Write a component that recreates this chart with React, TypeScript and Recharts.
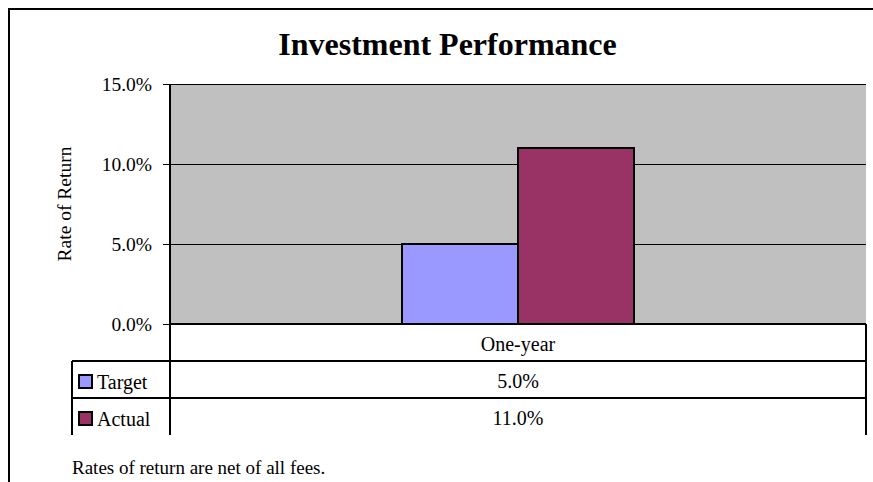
import React from 'react';
import { BarChart, Bar, XAxis, YAxis, CartesianGrid } from 'recharts';

const categories = ['One-year'];
const seriesNames = ['Target', 'Actual'];
const targetValues = [0.05];
const actualValues = [0.11];
const seriesColors = ['#9999FF', '#993366'];
const yTicks = [0, 0.05, 0.1, 0.15];
const titleText = 'Investment Performance';
const yAxisTitle = 'Rate of Return';
const footnote = 'Rates of return are net of all fees.';

const data = categories.map((c, i) => ({
  period: c,
  Target: targetValues[i],
  Actual: actualValues[i],
}));
const seriesValues = [targetValues, actualValues];

const FONT = "'Liberation Serif', 'Times New Roman', serif";
const fmt = (v: number) => (v * 100).toFixed(1) + '%';

const CHART_W = 863;
const CHART_H = 472;
const MARGIN = { top: 74, right: 7, left: 80, bottom: 47 };
const Y_AXIS_W = 80;
const X_AXIS_H = 111;
const PLOT_LEFT = MARGIN.left + Y_AXIS_W;
const PLOT_RIGHT = CHART_W - MARGIN.right;
const ROW_H = 37;
const LEGEND_COL_W = 98;

function TableTick(props: any) {
  const { x, y, payload, index } = props;
  const left = PLOT_LEFT - LEGEND_COL_W;
  const lines: any[] = [];
  const n = seriesNames.length;
  for (let r = 1; r <= n; r++) {
    lines.push(
      <line key={'h' + r} x1={left} x2={PLOT_RIGHT} y1={y + ROW_H * r} y2={y + ROW_H * r} stroke="#000" strokeWidth={2} />
    );
  }
  return (
    <g>
      <text x={x} y={y + 26.5} textAnchor="middle" fontFamily={FONT} fontSize={20} fill="#000">
        {payload.value}
      </text>
      {lines}
      <line x1={left} x2={left} y1={y + ROW_H} y2={y + ROW_H * (n + 1)} stroke="#000" strokeWidth={2} />
      <line x1={PLOT_LEFT} x2={PLOT_LEFT} y1={y} y2={y + ROW_H * (n + 1)} stroke="#000" strokeWidth={2} />
      <line x1={PLOT_RIGHT} x2={PLOT_RIGHT} y1={y} y2={y + ROW_H * (n + 1)} stroke="#000" strokeWidth={2} />
      {seriesNames.map((s, i) => {
        const top = y + ROW_H * (i + 1);
        return (
          <g key={s}>
            <rect x={left + 7} y={top + 14} width={13} height={13} fill={seriesColors[i]} stroke="#000" strokeWidth={2} />
            <text x={left + 25} y={top + 28} fontFamily={FONT} fontSize={20} fill="#000">{s}</text>
            <text x={x} y={top + 27} textAnchor="middle" fontFamily={FONT} fontSize={20} fill="#000">
              {fmt(seriesValues[i][index])}
            </text>
          </g>
        );
      })}
    </g>
  );
}

function YLabel(props: any) {
  const vb = props.viewBox || { x: MARGIN.left, y: MARGIN.top, width: Y_AXIS_W, height: 240 };
  const cx = vb.x - 26;
  const cy = vb.y + vb.height / 2;
  return (
    <text
      x={cx}
      y={cy}
      transform={`rotate(-90, ${cx}, ${cy})`}
      textAnchor="middle"
      dominantBaseline="central"
      fontFamily={FONT}
      fontSize={19.5}
      fill="#000"
    >
      {yAxisTitle}
    </text>
  );
}

export default function App() {
  return (
    <div
      style={{
        position: 'fixed',
        left: 8,
        top: 8,
        width: 865,
        height: 474,
        borderTop: '2px solid #000',
        borderLeft: '2px solid #000',
        boxSizing: 'border-box',
        background: '#fff',
        overflow: 'hidden',
      }}
    >
      <div
        style={{
          position: 'absolute',
          left: 0,
          top: 18,
          width: 875,
          textAlign: 'center',
          fontFamily: FONT,
          fontWeight: 'bold',
          fontSize: 32,
          lineHeight: '32px',
          color: '#000',
          whiteSpace: 'nowrap',
        }}
      >
        {titleText}
      </div>
      <BarChart
        width={CHART_W}
        height={CHART_H}
        data={data}
        margin={MARGIN}
        barCategoryGap="33.3%"
        barGap={0}
        style={{ shapeRendering: 'crispEdges' }}
      >
        <CartesianGrid vertical={false} stroke="#000" strokeWidth={1} fill="#C0C0C0" fillOpacity={1} />
        <Bar dataKey="Target" fill={seriesColors[0]} stroke="#000" strokeWidth={2} isAnimationActive={false} />
        <Bar dataKey="Actual" fill={seriesColors[1]} stroke="#000" strokeWidth={2} isAnimationActive={false} />
        <XAxis
          xAxisId="top"
          dataKey="period"
          orientation="top"
          height={0}
          tick={false}
          tickLine={false}
          axisLine={{ stroke: '#808080', strokeWidth: 2 }}
        />
        <YAxis
          yAxisId="right"
          orientation="right"
          width={0}
          domain={[0, 0.15]}
          ticks={yTicks}
          tick={false}
          tickLine={false}
          axisLine={{ stroke: '#808080', strokeWidth: 2 }}
        />
        <XAxis
          dataKey="period"
          height={X_AXIS_H}
          tickLine={false}
          tickSize={0}
          tickMargin={0}
          axisLine={{ stroke: '#000', strokeWidth: 2 }}
          tick={<TableTick />}
          interval={0}
        />
        <YAxis
          width={Y_AXIS_W}
          domain={[0, 0.15]}
          ticks={yTicks}
          tickFormatter={fmt}
          tickSize={7}
          tickMargin={11}
          tickLine={{ stroke: '#000', strokeWidth: 1 }}
          axisLine={{ stroke: '#000', strokeWidth: 2 }}
          tick={{ fontFamily: FONT, fontSize: 19.5, fill: '#000' }}
          label={<YLabel />}
        />
      </BarChart>
      <div
        style={{
          position: 'absolute',
          left: 62,
          top: 448,
          fontFamily: FONT,
          fontSize: 19,
          lineHeight: '19px',
          color: '#000',
          whiteSpace: 'nowrap',
        }}
      >
        {footnote}
      </div>
    </div>
  );
}
